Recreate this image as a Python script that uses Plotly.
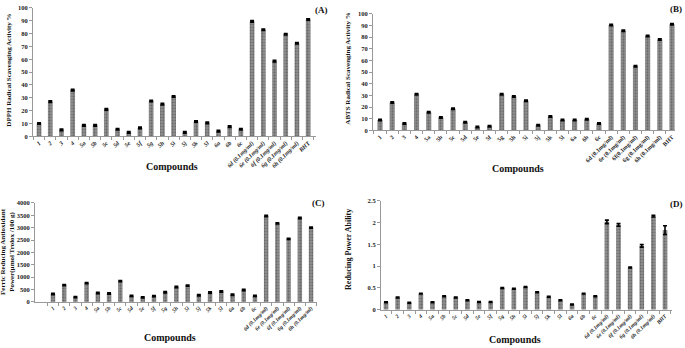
import plotly.graph_objects as go

compounds = ["1", "2", "3", "4", "5a", "5b", "5c", "5d", "5e", "5f", "5g", "5h", "5i", "5j",
             "5k", "5l", "6a", "6b", "6c", "6d (0.1mg/ml)", "6e (0.1mg/ml)", "6f (0.1mg/ml)",
             "6g (0.1mg/ml)", "6h (0.1mg/ml)", "BHT"]
compounds_b = ["1", "2", "3", "4", "5a", "5b", "5c", "5d", "5e", "5f", "5g", "5h", "5i", "5j",
               "5k", "5l", "6a", "6b", "6c", "6d (0.1mg/ml)", "6e (0.1mg/ml)", "6f(0.1mg/ml)",
               "6g (0.1mg/ml)", "6h (0.1mg/ml)", "BHT"]
compounds_c = compounds[:-1]

dpph = [10, 27, 5, 36, 8.5, 8.5, 21, 5.5, 3, 6.5, 27.5, 25, 31, 3, 11.5, 10.5, 4, 7.5, 5.5,
        89.5, 83, 58.5, 79.5, 72.5, 91]
abts = [9, 24, 6, 31, 15.5, 11, 18.5, 7, 3, 3.5, 31, 29, 25.5, 4.5, 12, 9, 9, 9.5, 6,
        90.5, 85.5, 55, 81, 78, 91]
frap = [320, 680, 190, 760, 360, 340, 840, 240, 180, 230, 390, 600, 660, 270, 380, 420, 290,
        480, 240, 3470, 3170, 2550, 3390, 3000]
rpa = [0.17, 0.28, 0.16, 0.37, 0.17, 0.31, 0.28, 0.22, 0.18, 0.18, 0.50, 0.48, 0.52, 0.40,
       0.30, 0.22, 0.12, 0.37, 0.31, 2.02, 1.95, 0.97, 1.47, 2.15, 1.83]

dpph_err = [0.6] * 25
abts_err = [0.6] * 25
frap_err = [25] * 24
rpa_err = [0.01] * 19 + [0.04, 0.03, 0.01, 0.03, 0.02, 0.1]

W, H = 685, 348
FONT = "Liberation Serif"


def px_x(p):
    return p / W


def px_y(p):
    return 1 - p / H


fig = go.Figure()

panels = [
    # name, cats, vals, errs, xdom px, ydom px (top,bottom), xrange, yrange, dtick, italic, width, xtick size
    ("", compounds, dpph, dpph_err, (33, 316), (4, 135), [-0.54, 24.7], [0, 100], 10, True, 0.42, 6),
    ("2", compounds_b, abts, abts_err, (373, 675), (10, 129), [-0.58, 24.25], [0, 100], 10, False, 0.42, 6),
    ("3", compounds_c, frap, frap_err, (35, 317), (203, 304), [-1.6, 23.53], [0, 4000], 500, True, 0.4, 5.5),
    ("4", compounds, rpa, rpa_err, (381, 672), (201, 312), [-0.43, 24.6], [0, 2.5], 0.5, True, 0.4, 5.5),
]

for name, cats, vals, errs, xd, yd, xr, yr, dt, ital, bw, xs in panels:
    fig.add_trace(go.Bar(
        x=cats, y=vals, xaxis="x" + name, yaxis="y" + name, width=bw,
        marker=dict(color="#8a8a8a", line=dict(width=0),
                    pattern=dict(shape=".", fgcolor="#3c3c3c", bgcolor="#8e8e8e", size=3, solidity=0.35)),
        error_y=dict(type="data", array=errs, visible=True, color="black", thickness=1.6, width=2),
        showlegend=False,
    ))
    xa = dict(domain=[px_x(xd[0]), px_x(xd[1])], anchor="y" + name, type="category",
              range=xr, showline=True, linecolor="#999", linewidth=1, ticks="outside",
              tickson="boundaries", ticklen=3, tickcolor="#999", tickangle=-45,
              tickfont=dict(family=FONT, size=xs, color="#222", weight="bold",
                            style="italic" if ital else "normal"),
              showgrid=False, zeroline=False)
    ya = dict(domain=[px_y(yd[1]), px_y(yd[0])], anchor="x" + name, range=yr, dtick=dt,
              showline=True, linecolor="#999", linewidth=1, ticks="outside", ticklen=3,
              tickcolor="#999", tickfont=dict(family=FONT, size=6.5, color="#222", weight="bold"),
              showgrid=False, zeroline=False)
    fig.update_layout(**{"xaxis" + name: xa, "yaxis" + name: ya})

anns = [
    # text, x, y, size, angle
    ("DPPH Radical Scavenging Activity %", 9, 68, 7, -90),
    ("ABTS Radical Scavenging Activity %", 348, 66, 7, -90),
    ("Ferric Reducing Antioxidant<br>Power(µmol Trolox /100 g)", 8, 253, 7, -90),
    ("Reducing Power Ability", 349, 251, 8, -90),
    ("Compounds", 172, 166, 10, 0),
    ("Compounds", 518, 168, 10, 0),
    ("Compounds", 170, 340, 10, 0),
    ("Compounds", 515, 342, 10, 0),
    ("(A)", 321, 6, 9, 0),
    ("(B)", 676, 5, 9, 0),
    ("(C)", 318, 203, 9, 0),
    ("(D)", 676, 204, 9, 0),
]
for text, x, y, s, ang in anns:
    fig.add_annotation(text=text, x=px_x(x), y=px_y(y), xref="paper", yref="paper",
                       showarrow=False, textangle=ang, xanchor="center", yanchor="middle",
                       font=dict(family=FONT, size=s, color="#111", weight="bold"))

fig.update_layout(width=W, height=H, margin=dict(l=0, r=0, t=0, b=0),
                  paper_bgcolor="white", plot_bgcolor="white", bargap=0.5)

fig.write_html("out.html", config={"displayModeBar": False},
               post_script="document.body.style.margin='0';document.body.style.overflow='hidden';")
